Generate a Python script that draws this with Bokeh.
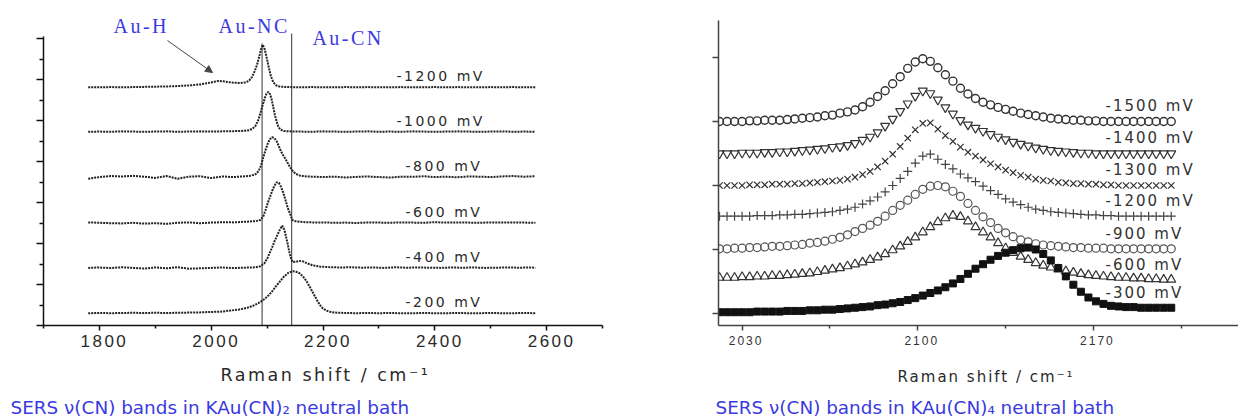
from bokeh.plotting import figure
from bokeh.layouts import row, column
from bokeh.models import Label, Arrow, NormalHead, FixedTicker, CustomLabelingPolicy
from bokeh.embed import file_html
from bokeh.resources import INLINE

# ---------------- Left panel: KAu(CN)2 neutral bath ----------------
left_labels = ["-1200 mV", "-1000 mV", "-800 mV", "-600 mV", "-400 mV", "-200 mV"]
left_offsets = [11.62, 9.45, 7.24, 5.01, 2.81, 0.60]

x_m1200 = [1780, 1800, 1820, 1840, 1860, 1880, 1900, 1920, 1940, 1960, 1980,
           1995, 2005, 2013, 2022, 2032, 2042, 2052, 2062, 2068, 2073,
           2078, 2082, 2086, 2089, 2092, 2095, 2098, 2101, 2104, 2107,
           2111, 2116, 2122, 2130, 2140,
           2160, 2180, 2200, 2220, 2240, 2260, 2280, 2300, 2320, 2340, 2360,
           2380, 2400, 2420, 2440, 2460, 2480, 2500, 2520, 2540, 2560, 2580]
i_m1200 = [0, 0, 0.01, 0, 0.01, 0.02, 0.03, 0.04, 0.06, 0.09, 0.14,
           0.21, 0.27, 0.31, 0.29, 0.25, 0.22, 0.21, 0.24, 0.33, 0.50,
           0.80, 1.10, 1.50, 1.85, 2.07, 1.92, 1.60, 1.22, 0.85, 0.52,
           0.25, 0.10, 0.04, 0.02, 0.01,
           0, 0.01, 0, 0, 0.01, 0, 0.01, 0, 0, 0.01, 0,
           0, 0.01, 0, 0.01, 0, 0, 0.01, 0, 0.01, 0, 0]

x_m1000 = [1780, 1800, 1820, 1840, 1860, 1880, 1900, 1920, 1940, 1960, 1980, 2000, 2020, 2040, 2060,
           2068, 2074, 2079, 2084, 2088, 2092, 2096, 2099, 2102, 2105, 2108, 2111, 2114, 2117,
           2120, 2124, 2130, 2140,
           2160, 2180, 2200, 2220, 2240, 2260, 2280, 2300, 2320, 2340, 2360,
           2380, 2400, 2420, 2440, 2460, 2480, 2500, 2520, 2540, 2560, 2580]
i_m1000 = [0, 0.01, 0, 0.02, 0.01, 0, 0.01, 0.02, 0, 0.01, 0.02, 0.01, 0.02, 0.03, 0.05,
           0.08, 0.15, 0.28, 0.55, 0.90, 1.30, 1.65, 1.86, 1.95, 1.85, 1.60, 1.20, 0.82, 0.50,
           0.25, 0.10, 0.04, 0.02,
           0.01, 0, 0.02, 0.01, 0, 0.01, 0.02, 0, 0.01, 0, 0.02,
           0.01, 0, 0.01, 0.02, 0.01, 0, 0.01, 0.02, 0, 0.01, 0]

x_m800 = [1780, 1800, 1820, 1840, 1860, 1880, 1900, 1920, 1940, 1960, 1980, 2000, 2020, 2040, 2060,
          2068, 2075, 2080, 2085, 2089, 2093, 2097, 2101, 2105, 2109, 2113, 2117, 2121, 2125,
          2129, 2133, 2137, 2141, 2146, 2151, 2158, 2166, 2180,
          2200, 2220, 2240, 2260, 2280, 2300, 2320, 2340, 2360, 2380,
          2400, 2420, 2440, 2460, 2480, 2500, 2520, 2540, 2560, 2580]
i_m800 = [-0.08, 0.0, 0.05, 0.03, 0.06, 0.02, -0.04, 0.05, -0.08, 0.02, 0.04, -0.05, 0.03, 0.0, 0.04,
          0.05, 0.10, 0.15, 0.30, 0.55, 0.95, 1.30, 1.62, 1.85, 1.95, 1.90, 1.75, 1.50, 1.25,
          1.05, 0.88, 0.68, 0.48, 0.30, 0.16, 0.08, 0.04, 0.02,
          0, 0.02, -0.02, 0.01, 0.03, 0, -0.02, 0.02, 0.01, 0.04,
          0, 0.02, -0.01, 0.03, 0.02, 0, 0.03, 0.05, 0.02, 0.04]

x_m600 = [1780, 1800, 1820, 1840, 1860, 1880, 1900, 1920, 1940, 1960, 1980, 2000, 2020, 2040, 2060, 2080,
          2088, 2093, 2097, 2101, 2105, 2109, 2113, 2117, 2121, 2125, 2129, 2133, 2137, 2141,
          2145, 2150, 2158, 2170, 2180,
          2200, 2220, 2240, 2260, 2280, 2300, 2320, 2340, 2360, 2380,
          2400, 2420, 2440, 2460, 2480, 2500, 2520, 2540, 2560, 2580]
i_m600 = [0.02, 0.0, -0.02, -0.03, 0.0, -0.04, -0.02, -0.05, 0.0, 0.02, -0.02, 0.01, 0.03, 0.02, 0.05, 0.08,
          0.14, 0.30, 0.60, 0.95, 1.25, 1.55, 1.80, 1.97, 1.95, 1.75, 1.45, 1.10, 0.72, 0.45,
          0.14, 0.08, 0.05, 0.03, 0.02,
          0.02, 0, 0.01, -0.01, 0.02, 0.01, 0, 0.02, 0.01, 0,
          0.03, 0.01, 0.02, 0.01, 0, 0.02, 0.01, 0.02, 0.01, 0]

x_m400 = [1780, 1800, 1820, 1840, 1860, 1880, 1900, 1920, 1940, 1960, 1980, 2000, 2020, 2040, 2060, 2080,
          2088, 2095, 2101, 2105, 2109, 2113, 2118, 2122, 2127, 2131, 2134, 2137, 2140, 2143,
          2146, 2152, 2158, 2164, 2172, 2182, 2195, 2210,
          2230, 2250, 2270, 2290, 2310, 2330, 2350, 2370, 2390, 2410,
          2430, 2450, 2470, 2490, 2510, 2530, 2550, 2570, 2580]
i_m400 = [0.0, 0.02, -0.01, 0.03, 0.0, -0.03, 0.02, -0.02, 0.03, -0.04, -0.02, 0.0, 0.02, -0.01, 0.01, 0.03,
          0.08, 0.22, 0.50, 0.75, 1.00, 1.28, 1.58, 1.82, 2.06, 1.85, 1.50, 1.15, 0.75, 0.45,
          0.28, 0.30, 0.34, 0.32, 0.22, 0.12, 0.06, 0.04,
          0.02, 0.03, 0.01, 0.02, 0, 0.03, 0.01, 0.02, 0.01, 0,
          0.02, 0.01, 0.02, 0, 0.01, 0.02, 0.01, 0.02, 0.01]

x_m200 = [1780, 1800, 1820, 1840, 1860, 1880, 1900, 1920, 1940, 1960, 1980, 2000, 2020,
          2035, 2050, 2064, 2075, 2085, 2093, 2100, 2108, 2115, 2122, 2130, 2138,
          2146, 2152, 2158, 2164, 2170, 2176, 2182, 2188, 2194, 2200, 2210, 2220,
          2240, 2260, 2280, 2300, 2320, 2340, 2360, 2380, 2400,
          2420, 2440, 2460, 2480, 2500, 2520, 2540, 2560, 2580]
i_m200 = [0.0, 0.01, 0.0, 0.01, 0.02, 0.01, 0.02, 0.01, 0.02, 0.03, 0.04, 0.06, 0.08,
          0.13, 0.18, 0.26, 0.36, 0.50, 0.64, 0.80, 1.03, 1.28, 1.52, 1.78, 1.97,
          2.05, 2.02, 1.95, 1.80, 1.58, 1.30, 1.00, 0.70, 0.42, 0.22, 0.08, 0.03,
          0.01, 0, 0.01, 0, 0.01, 0, 0, 0.01, 0,
          0, 0.01, 0, 0, 0.01, 0, 0, 0.01, 0]

left_x = [x_m1200, x_m1000, x_m800, x_m600, x_m400, x_m200]
left_int = [i_m1200, i_m1000, i_m800, i_m600, i_m400, i_m200]

band_names = ["Au-H", "Au-NC", "Au-CN"]
band_lines = [2091, 2144]
left_xticks = [1800, 2000, 2200, 2400, 2600]
left_xminor = [1700, 1900, 2100, 2300, 2500, 2700]

# ---------------- Right panel: KAu(CN)4 neutral bath ----------------
right_labels = ["-1500 mV", "-1400 mV", "-1300 mV", "-1200 mV", "-900 mV", "-600 mV", "-300 mV"]
right_offsets = [3.0, 2.5, 2.0, 1.5, 1.0, 0.5, 0.0]
right_x = [2021, 2024, 2027, 2030, 2033, 2036, 2039, 2042, 2045, 2048,
           2051, 2054, 2057, 2060, 2063, 2066, 2069, 2072, 2075, 2078,
           2081, 2084, 2087, 2090, 2093, 2096, 2099, 2102, 2105, 2108,
           2111, 2114, 2117, 2120, 2123, 2126, 2129, 2132, 2135, 2138,
           2141, 2144, 2147, 2150, 2153, 2156, 2159, 2162, 2165, 2168,
           2171, 2174, 2177, 2180, 2183, 2186, 2189, 2192, 2195, 2198,
           2201]
r_m1500 = [0, 0, 0, 0, 0.01, 0.01, 0.02, 0.02, 0.02, 0.03,
           0.04, 0.05, 0.06, 0.07, 0.09, 0.10, 0.13, 0.15, 0.18, 0.23,
           0.30, 0.39, 0.48, 0.59, 0.70, 0.83, 0.93, 0.98, 0.94, 0.84,
           0.73, 0.63, 0.52, 0.43, 0.36, 0.30, 0.26, 0.22, 0.19, 0.16,
           0.13, 0.11, 0.09, 0.07, 0.05, 0.04, 0.03, 0.02, 0.02, 0.01,
           0.01, 0, 0, 0, 0, 0, 0, 0, 0, 0,
           0]
r_m1400 = [0, 0, 0, 0.01, 0.01, 0.01, 0.02, 0.02, 0.03, 0.03,
           0.04, 0.05, 0.06, 0.07, 0.08, 0.10, 0.11, 0.13, 0.16, 0.21,
           0.26, 0.33, 0.43, 0.54, 0.66, 0.78, 0.90, 0.98, 0.94, 0.84,
           0.72, 0.62, 0.52, 0.45, 0.40, 0.35, 0.30, 0.26, 0.22, 0.18,
           0.15, 0.12, 0.09, 0.07, 0.05, 0.04, 0.03, 0.02, 0.01, 0.01,
           0, 0, 0, 0, 0, 0, 0, 0, 0, 0,
           0]
r_m1300 = [0, 0, 0, 0, 0.01, 0.01, 0.01, 0.02, 0.02, 0.02,
           0.03, 0.03, 0.04, 0.05, 0.06, 0.07, 0.08, 0.10, 0.13, 0.17,
           0.22, 0.29, 0.38, 0.49, 0.61, 0.74, 0.87, 0.97, 0.98, 0.88,
           0.78, 0.69, 0.60, 0.52, 0.46, 0.40, 0.34, 0.29, 0.24, 0.20,
           0.16, 0.13, 0.10, 0.08, 0.07, 0.05, 0.04, 0.03, 0.03, 0.02,
           0.02, 0.01, 0.01, 0, 0, 0, 0, 0, 0, 0,
           0]
r_m1200 = [0.02, 0.02, 0.02, 0.02, 0.02, 0.03, 0.03, 0.03, 0.04, 0.04,
           0.05, 0.05, 0.06, 0.07, 0.08, 0.09, 0.11, 0.13, 0.16, 0.21,
           0.26, 0.32, 0.40, 0.50, 0.61, 0.72, 0.85, 0.96, 0.99, 0.91,
           0.83, 0.76, 0.68, 0.62, 0.56, 0.49, 0.42, 0.36, 0.29, 0.24,
           0.20, 0.16, 0.13, 0.11, 0.09, 0.08, 0.07, 0.06, 0.05, 0.04,
           0.04, 0.03, 0.03, 0.02, 0.02, 0.02, 0.02, 0.02, 0.02, 0.02,
           0.02]
r_m900 = [0.01, 0.01, 0.02, 0.02, 0.03, 0.03, 0.04, 0.05, 0.05, 0.06,
          0.07, 0.08, 0.10, 0.11, 0.13, 0.16, 0.19, 0.23, 0.28, 0.33,
          0.38, 0.44, 0.52, 0.61, 0.69, 0.77, 0.86, 0.94, 0.99, 1.00,
          0.98, 0.91, 0.83, 0.72, 0.61, 0.51, 0.42, 0.33, 0.26, 0.20,
          0.15, 0.12, 0.09, 0.07, 0.06, 0.05, 0.04, 0.03, 0.03, 0.02,
          0.02, 0.02, 0.01, 0.01, 0.01, 0.01, 0.01, 0.01, 0.01, 0.01,
          0.01]
r_m600 = [0.06, 0.06, 0.06, 0.07, 0.07, 0.08, 0.08, 0.09, 0.09, 0.10,
          0.11, 0.12, 0.13, 0.15, 0.17, 0.19, 0.21, 0.24, 0.27, 0.30,
          0.34, 0.38, 0.43, 0.49, 0.55, 0.62, 0.69, 0.77, 0.85, 0.93,
          0.99, 1.03, 1.01, 0.94, 0.85, 0.77, 0.69, 0.60, 0.52, 0.45,
          0.39, 0.34, 0.29, 0.25, 0.22, 0.19, 0.16, 0.14, 0.12, 0.10,
          0.09, 0.08, 0.07, 0.06, 0.06, 0.05, 0.05, 0.04, 0.04, 0.03,
          0.03]
r_m300 = [0.02, 0.02, 0.02, 0.02, 0.02, 0.03, 0.03, 0.03, 0.03, 0.04,
          0.04, 0.04, 0.05, 0.05, 0.06, 0.06, 0.07, 0.08, 0.09, 0.10,
          0.11, 0.13, 0.14, 0.16, 0.18, 0.21, 0.24, 0.28, 0.32, 0.36,
          0.41, 0.47, 0.54, 0.62, 0.70, 0.77, 0.84, 0.90, 0.95, 0.99,
          1.02, 1.03, 1.00, 0.93, 0.83, 0.71, 0.58, 0.45, 0.34, 0.25,
          0.19, 0.15, 0.12, 0.11, 0.10, 0.10, 0.09, 0.09, 0.09, 0.09,
          0.09]
right_int = [r_m1500, r_m1400, r_m1300, r_m1200, r_m900, r_m600, r_m300]
right_xticks = [2030, 2100, 2170]
right_minor = [2065, 2135, 2205]

captions = ["SERS \u03bd(CN) bands in KAu(CN)\u2082 neutral bath",
            "SERS \u03bd(CN) bands in KAu(CN)\u2084 neutral bath"]
x_title = "Raman shift / cm\u207b\u00b9"

BLUE = "#3a3ae0"
INK = "#2a2a2a"

no_labels = CustomLabelingPolicy(code="""
const ids = [];
for (const i of indices) ids.push(i);
for (const i of ids) indices.unset(i);
""")

MAIN_H = 355

# ======================= LEFT FIGURE =======================
# frame spans canvas top (y=0) to the x axis (y=325); y axis line limited by bounds
p1 = figure(width=672, height=MAIN_H, x_range=(1700, 2700), y_range=(0, 15.854),
            title=None, toolbar_location=None, output_backend="svg",
            min_border_left=43, min_border_right=70, min_border_top=0, min_border_bottom=30,
            styles={"letter-spacing": "2.5px"})
p1.outline_line_color = None
p1.grid.visible = False

xa = p1.xaxis[0]
xa.ticker = FixedTicker(ticks=left_xticks, minor_ticks=left_xminor)
xa.axis_line_color = "#111"
xa.axis_line_width = 1.5
xa.major_tick_in = 0
xa.major_tick_out = 5
xa.minor_tick_in = 0
xa.minor_tick_out = 3
xa.major_tick_line_color = "#111"
xa.minor_tick_line_color = "#111"
xa.major_tick_line_width = 1.5
xa.minor_tick_line_width = 1.5
xa.major_label_text_font = "Liberation Sans"
xa.major_label_text_font_size = "17px"
xa.major_label_text_color = INK
xa.major_label_standoff = 4

ya = p1.yaxis[0]
ya.bounds = (0, 14.1)
ya.ticker = FixedTicker(ticks=[0, 2, 4, 6, 8, 10, 12, 14], minor_ticks=[1, 3, 5, 7, 9, 11, 13])
ya.axis_line_color = "#111"
ya.axis_line_width = 1.5
ya.major_tick_in = 0
ya.major_tick_out = 7
ya.minor_tick_in = 0
ya.minor_tick_out = 4
ya.major_tick_line_color = "#111"
ya.minor_tick_line_color = "#111"
ya.major_tick_line_width = 1.5
ya.minor_tick_line_width = 1.5
ya.major_label_policy = no_labels

# band position lines
p1.segment(x0=band_lines, y0=[0, 0], x1=band_lines, y1=[13.76, 14.24],
           line_color="#333", line_width=1)

for xs, ints, off, lab in zip(left_x, left_int, left_offsets, left_labels):
    ys = [off + v for v in ints]
    p1.line(xs, ys, line_color="#222", line_width=2.0, line_dash="2 1")
    lx = 2331.5 if len(lab) == 8 else 2347.6
    p1.add_layout(Label(x=lx, y=off + 0.54, text=lab, text_font="DejaVu Sans",
                        text_font_size="14px", text_color=INK, text_baseline="middle"))

# band names
p1.add_layout(Label(x=1825.2, y=14.61, text=band_names[0], text_font="Liberation Serif",
                    text_font_size="20px", text_color=BLUE, text_baseline="middle"))
p1.add_layout(Label(x=2013.0, y=14.61, text=band_names[1], text_font="Liberation Serif",
                    text_font_size="20px", text_color=BLUE, text_baseline="middle"))
p1.add_layout(Label(x=2181.0, y=14.02, text=band_names[2], text_font="Liberation Serif",
                    text_font_size="20px", text_color=BLUE, text_baseline="middle"))
p1.add_layout(Arrow(end=NormalHead(size=7, fill_color="#444", line_color="#444"),
                    x_start=1921.8, y_start=13.9, x_end=2002.3, y_end=12.34,
                    line_color="#444", line_width=1))

# ======================= RIGHT FIGURE =======================
p2 = figure(width=566, height=MAIN_H, x_range=(2020.6, 2227.8), y_range=(-0.1875, 4.8905),
            title=None, toolbar_location=None, output_backend="svg",
            min_border_left=46, min_border_right=0, min_border_top=0, min_border_bottom=30,
            styles={"letter-spacing": "2px"})
p2.outline_line_color = None
p2.grid.visible = False

xb = p2.xaxis[0]
xb.ticker = FixedTicker(ticks=right_xticks, minor_ticks=right_minor)
xb.axis_line_color = "#444"
xb.axis_line_width = 1.5
xb.major_tick_in = 0
xb.major_tick_out = 5
xb.minor_tick_in = 0
xb.minor_tick_out = 3
xb.major_tick_line_color = "#444"
xb.minor_tick_line_color = "#444"
xb.major_tick_line_width = 1.5
xb.minor_tick_line_width = 1.5
xb.major_label_text_font = "Liberation Sans"
xb.major_label_text_font_size = "12px"
xb.major_label_text_color = "#333"
xb.major_label_standoff = 5

yb = p2.yaxis[0]
yb.bounds = (-0.1875, 4.578)
yb.ticker = FixedTicker(ticks=[0, 1, 2, 3, 4], minor_ticks=[])
yb.axis_line_color = "#444"
yb.axis_line_width = 1.5
yb.major_tick_in = 0
yb.major_tick_out = 6
yb.major_tick_line_color = "#444"
yb.major_tick_line_width = 1.5
yb.major_label_policy = no_labels

styles_r = [
    dict(marker="circle", size=8, fill_color=None, line_color="#333", line_width=1.4),
    dict(marker="inverted_triangle", size=9, fill_color=None, line_color="#333", line_width=1.2),
    dict(marker="x", size=9, line_color="#333", line_width=1.2),
    dict(marker="cross", size=9, line_color="#444", line_width=1.2),
    dict(marker="circle", size=8, fill_color=None, line_color="#555", line_width=1.2),
    dict(marker="triangle", size=9, fill_color=None, line_color="#333", line_width=1.2),
    dict(marker="square", size=7, fill_color="#111", line_color="#111", line_width=1),
]
for ints, off, lab, st in zip(right_int, right_offsets, right_labels, styles_r):
    ys = [off + v for v in ints]
    p2.scatter(right_x, ys, **st)
    p2.add_layout(Label(x=2174.8, y=ys[-1] + 0.235, text=lab, text_font="DejaVu Sans",
                        text_font_size="15px", text_color="#333", text_baseline="middle"))


# ======================= AXIS TITLES & CAPTIONS =======================
def text_fig(w, h, x0, y0, txt, font, size, color, spacing=None):
    kw = {}
    if spacing:
        kw["styles"] = {"letter-spacing": spacing}
    c = figure(width=w, height=h, x_range=(0, w), y_range=(0, h), min_border=0,
               title=None, toolbar_location=None, output_backend="svg",
               x_axis_type=None, y_axis_type=None, **kw)
    c.outline_line_color = None
    c.add_layout(Label(x=x0, y=y0, text=txt, text_font=font, text_font_size=size,
                       text_color=color, text_baseline="middle"))
    return c

# titles: canvas rows 355..390 ; captions: 390..420 (y = text centre from the bottom)
t1 = text_fig(672, 35, 220, 15.5, x_title, "DejaVu Sans", "17.5px", INK, "2.5px")
t2 = text_fig(566, 35, 225, 14, x_title, "DejaVu Sans", "15px", INK, "2px")
c1 = text_fig(672, 30, 10, 13.5, captions[0], "DejaVu Sans", "18.4px", BLUE)
c2 = text_fig(566, 30, 43, 13.5, captions[1], "DejaVu Sans", "18.4px", BLUE)

layout = column(row(p1, p2), row(t1, t2), row(c1, c2))
open("out.html", "w").write(file_html(layout, INLINE))
